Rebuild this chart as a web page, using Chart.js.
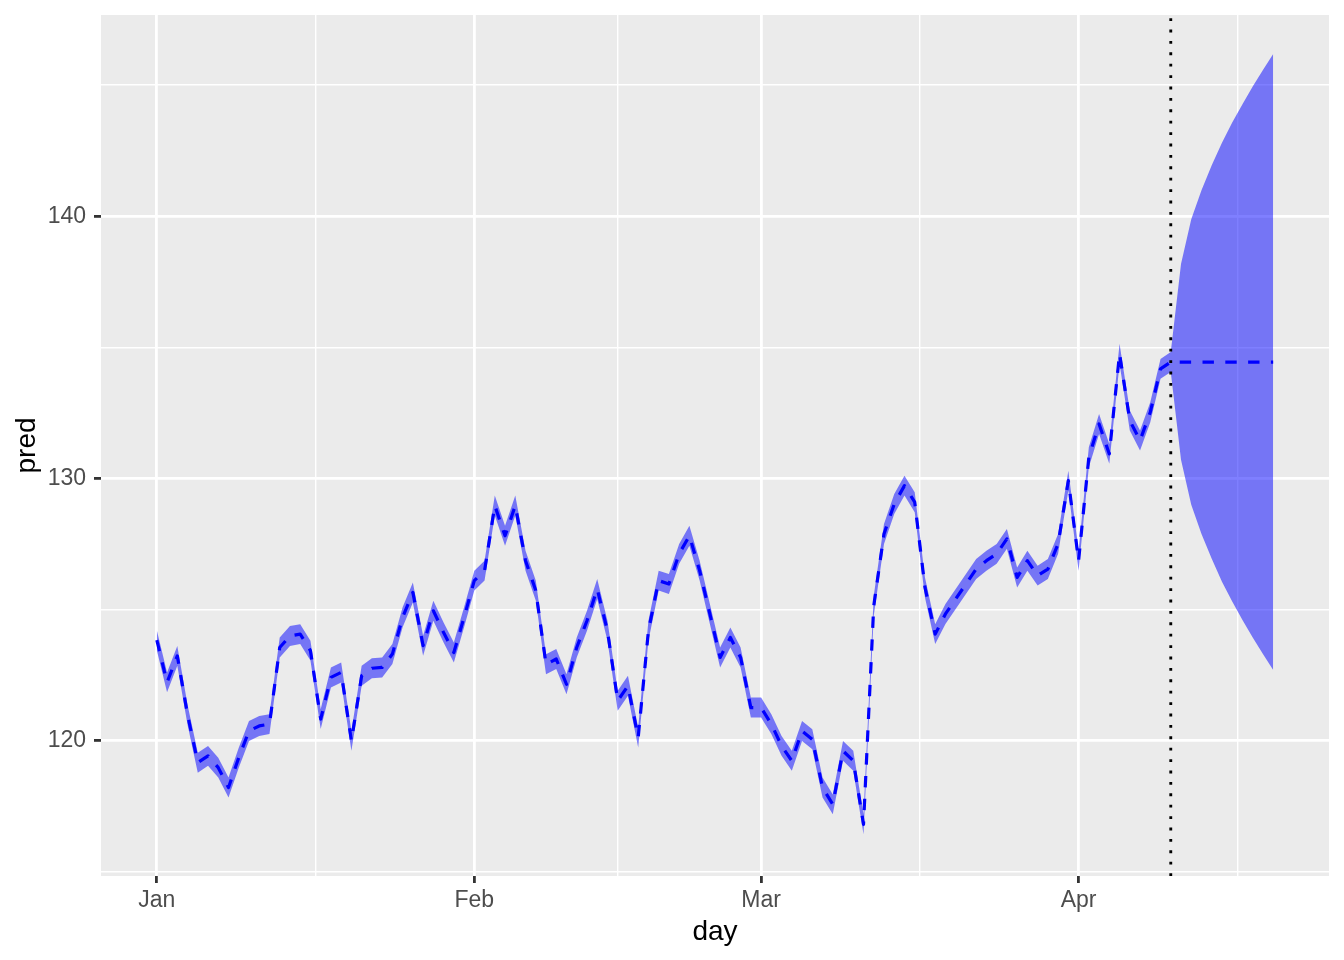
<!DOCTYPE html>
<html>
<head>
<meta charset="utf-8">
<script src="https://cdn.jsdelivr.net/npm/chart.js@4.4.1/dist/chart.umd.min.js"></script>
<style>
  body { margin: 0; background: #ffffff; }
  #wrap { width: 1344px; height: 960px; }
</style>
</head>
<body>
<div id="wrap"><canvas id="chart" width="1344" height="960"></canvas></div>
<script>
// day 0 = Jan 1, one value per day up to Apr 10 (day 99)
const pred = [
  123.84, 122.23, 123.24, 121.00, 119.17, 119.43, 118.98, 118.22, 119.36, 120.38,
  120.57, 120.64, 123.56, 124.00, 124.07, 123.44, 120.83, 122.42, 122.61, 120.00,
  122.48, 122.77, 122.80, 123.31, 124.71, 125.66, 123.63, 124.96, 124.13, 123.37,
  124.71, 126.11, 126.49, 128.97, 127.82, 128.97, 126.87, 125.73, 122.92, 123.12,
  122.16, 123.56, 124.58, 125.79, 124.20, 121.53, 122.10, 120.13, 124.20, 126.11,
  125.98, 127.13, 127.82, 126.49, 124.84, 123.18, 123.94, 123.18, 121.27, 121.27,
  120.64, 119.81, 119.24, 120.38, 120.06, 118.22, 117.58, 119.62, 119.24, 116.82,
  125.15, 127.89, 129.03, 129.73, 129.10, 125.85, 124.07, 124.84, 125.41, 125.98,
  126.55, 126.87, 127.13, 127.70, 126.23, 126.87, 126.30, 126.55, 127.51, 129.92,
  126.87, 130.81, 132.08, 130.94, 134.76, 132.21, 131.45, 132.53, 134.18, 134.44
];
// half height of the band around the fitted line
const bandHalf = 0.38;

// forecast, Apr 11 .. Apr 20 (days 100 .. 109)
const fcMean  = [134.44, 134.44, 134.44, 134.44, 134.44, 134.44, 134.44, 134.44, 134.44, 134.44];
const fcUpper = [138.18, 139.88, 140.99, 141.94, 142.80, 143.57, 144.27, 144.94, 145.57, 146.18];
const fcLower = [130.72, 129.00, 127.89, 126.94, 126.07, 125.31, 124.61, 123.94, 123.31, 122.70];
const cutoffDay = 99;

const monthTicks = [0, 31, 59, 90];
const monthLabels = ['Jan', 'Feb', 'Mar', 'Apr'];
const minorDayTicks = [15.5, 45, 74.5, 105.5];
const majorPredTicks = [120, 130, 140];
const minorPredTicks = [115, 125, 135, 145];

const toPoints = arr => arr.map((v, i) => ({x: i, y: v}));
const lineValues = pred.concat(fcMean);
const lowValues = pred.map(v => v - bandHalf).concat(fcLower);
const highValues = pred.map(v => v + bandHalf).concat(fcUpper);

const panelBackground = {
  id: 'panelBackground',
  beforeDraw(chart) {
    const {ctx, chartArea: a} = chart;
    ctx.save();
    ctx.fillStyle = '#EBEBEB';
    ctx.fillRect(a.left, a.top, a.right - a.left, a.bottom - a.top);
    ctx.restore();
  }
};

// dotted vertical line at the forecast start
const cutoffLine = {
  id: 'cutoffLine',
  afterDatasetsDraw(chart) {
    const {ctx, chartArea: a, scales} = chart;
    const x = scales.x.getPixelForValue(cutoffDay);
    ctx.save();
    ctx.strokeStyle = '#000000';
    ctx.lineWidth = 2.85;
    ctx.setLineDash([2.85, 8.55]);
    ctx.beginPath();
    ctx.moveTo(x, a.bottom);
    ctx.lineTo(x, a.top);
    ctx.stroke();
    ctx.restore();
  }
};

const isMonth = v => monthTicks.indexOf(v) >= 0;
const isMajorPred = v => majorPredTicks.indexOf(v) >= 0;

Chart.defaults.font.family = "'Liberation Sans', Arial, sans-serif";

new Chart(document.getElementById('chart'), {
  type: 'line',
  data: {
    datasets: [
      {
        label: 'pred',
        data: toPoints(lineValues),
        borderColor: '#0000FF',
        borderWidth: 3.2,
        borderDash: [11.4, 11.4],
        borderCapStyle: 'butt',
        borderJoinStyle: 'round',
        pointRadius: 0,
        tension: 0,
        fill: false
      },
      {
        label: 'low',
        data: toPoints(lowValues),
        borderColor: 'rgba(0,0,0,0)',
        borderWidth: 0,
        pointRadius: 0,
        tension: 0,
        fill: false
      },
      {
        label: 'high',
        data: toPoints(highValues),
        borderColor: 'rgba(0,0,0,0)',
        borderWidth: 0,
        backgroundColor: 'rgba(0,0,255,0.5)',
        pointRadius: 0,
        tension: 0,
        fill: '-1'
      }
    ]
  },
  options: {
    responsive: false,
    animation: false,
    devicePixelRatio: 1,
    layout: { padding: { top: 15, right: 15, left: 0, bottom: 0 } },
    plugins: {
      legend: { display: false },
      tooltip: { enabled: false }
    },
    scales: {
      x: {
        type: 'linear',
        min: -5.45,
        max: 114.45,
        afterBuildTicks: s => {
          s.ticks = monthTicks.concat(minorDayTicks).sort((a, b) => a - b).map(v => ({value: v}));
        },
        afterFit: s => {
          s.height = 84;
          s.paddingLeft = 0;
          s.paddingRight = 0;
        },
        border: { display: false },
        grid: {
          color: '#FFFFFF',
          lineWidth: c => isMonth(c.tick.value) ? 2.8 : 1.4,
          tickLength: 7,
          tickWidth: 2.8,
          tickColor: c => isMonth(c.tick.value) ? '#333333' : 'rgba(0,0,0,0)'
        },
        ticks: {
          autoSkip: false,
          maxRotation: 0,
          padding: 4,
          color: '#4D4D4D',
          font: { size: 23 },
          callback: v => isMonth(v) ? monthLabels[monthTicks.indexOf(v)] : ''
        },
        title: {
          display: true,
          text: 'day',
          color: '#000000',
          font: { size: 28 },
          padding: { top: 0, bottom: 11 }
        }
      },
      y: {
        type: 'linear',
        min: 114.85,
        max: 147.67,
        afterBuildTicks: s => {
          s.ticks = minorPredTicks.concat(majorPredTicks).sort((a, b) => a - b).map(v => ({value: v}));
        },
        afterFit: s => {
          s.width = 101;
          s.paddingTop = 0;
          s.paddingBottom = 0;
        },
        border: { display: false },
        grid: {
          color: '#FFFFFF',
          lineWidth: c => isMajorPred(c.tick.value) ? 2.8 : 1.4,
          tickLength: 7,
          tickWidth: 2.8,
          tickColor: c => isMajorPred(c.tick.value) ? '#333333' : 'rgba(0,0,0,0)'
        },
        ticks: {
          autoSkip: false,
          padding: 8,
          color: '#4D4D4D',
          font: { size: 23 },
          callback: v => isMajorPred(v) ? String(v) : ''
        },
        title: {
          display: true,
          text: 'pred',
          color: '#000000',
          font: { size: 28 },
          padding: { top: 10, bottom: 0 }
        }
      }
    }
  },
  plugins: [panelBackground, cutoffLine]
});
</script>
</body>
</html>
